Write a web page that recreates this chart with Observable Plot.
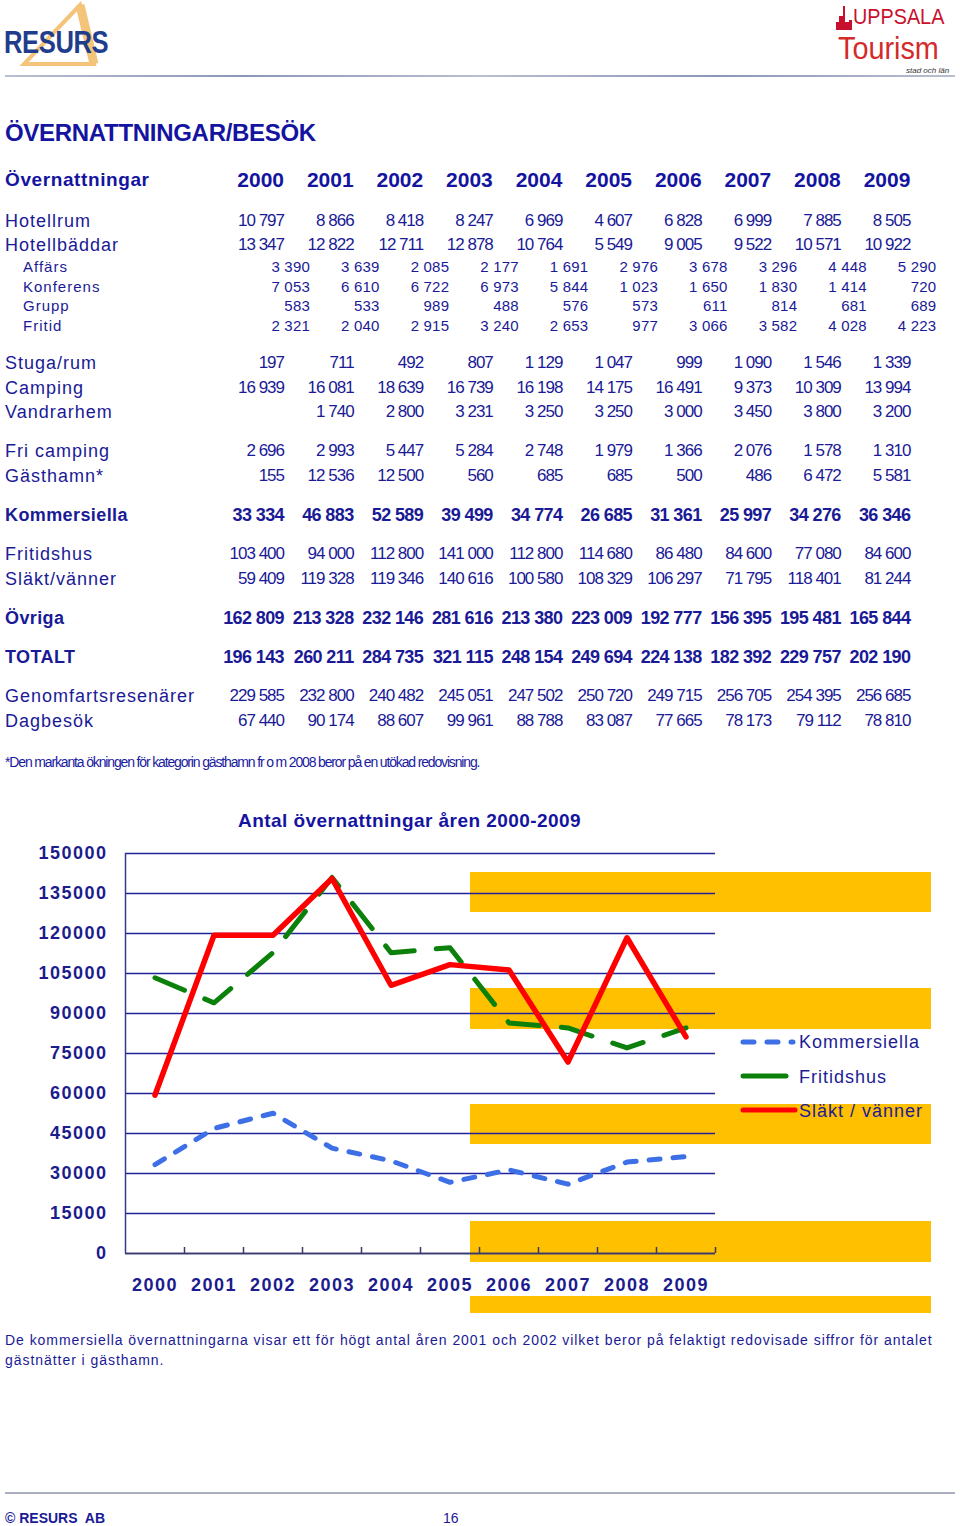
<!DOCTYPE html>
<html><head><meta charset="utf-8">
<script src="https://cdn.jsdelivr.net/npm/d3@7"></script>
<script src="https://cdn.jsdelivr.net/npm/@observablehq/plot@0.6"></script>
<style>
html,body{margin:0;padding:0;background:#fff;}
#page{position:relative;width:960px;height:1526px;overflow:hidden;background:#fff;font-family:"Liberation Sans",Arial,sans-serif;color:#1a1a96;}
.t{position:absolute;white-space:nowrap;}
.band{position:absolute;background:#ffc000;}
#chart{position:absolute;left:0;top:800px;}
#chart svg text{letter-spacing:1.5px;}
</style></head>
<body><div id="page"></div>
<script>
// ---------- DATA ----------
const years = [2000, 2001, 2002, 2003, 2004, 2005, 2006, 2007, 2008, 2009];
const hotellrum = [10797, 8866, 8418, 8247, 6969, 4607, 6828, 6999, 7885, 8505];
const hotellbaddar = [13347, 12822, 12711, 12878, 10764, 5549, 9005, 9522, 10571, 10922];
const affars = [3390, 3639, 2085, 2177, 1691, 2976, 3678, 3296, 4448, 5290];
const konferens = [7053, 6610, 6722, 6973, 5844, 1023, 1650, 1830, 1414, 720];
const grupp = [583, 533, 989, 488, 576, 573, 611, 814, 681, 689];
const fritid = [2321, 2040, 2915, 3240, 2653, 977, 3066, 3582, 4028, 4223];
const stugaRum = [197, 711, 492, 807, 1129, 1047, 999, 1090, 1546, 1339];
const camping = [16939, 16081, 18639, 16739, 16198, 14175, 16491, 9373, 10309, 13994];
const vandrarhem = [null, 1740, 2800, 3231, 3250, 3250, 3000, 3450, 3800, 3200];
const friCamping = [2696, 2993, 5447, 5284, 2748, 1979, 1366, 2076, 1578, 1310];
const gasthamn = [155, 12536, 12500, 560, 685, 685, 500, 486, 6472, 5581];
const kommersiella = [33334, 46883, 52589, 39499, 34774, 26685, 31361, 25997, 34276, 36346];
const fritidshus = [103400, 94000, 112800, 141000, 112800, 114680, 86480, 84600, 77080, 84600];
const slaktVanner = [59409, 119328, 119346, 140616, 100580, 108329, 106297, 71795, 118401, 81244];
const ovriga = [162809, 213328, 232146, 281616, 213380, 223009, 192777, 156395, 195481, 165844];
const totalt = [196143, 260211, 284735, 321115, 248154, 249694, 224138, 182392, 229757, 202190];
const genomfart = [229585, 232800, 240482, 245051, 247502, 250720, 249715, 256705, 254395, 256685];
const dagbesok = [67440, 90174, 88607, 99961, 88788, 83087, 77665, 78173, 79112, 78810];
const yTicks = [0, 15000, 30000, 45000, 60000, 75000, 90000, 105000, 120000, 135000, 150000];
const seriesNames = ["Kommersiella", "Fritidshus", "Släkt / vänner"];

// ---------- PAGE ----------
const page = document.getElementById("page");
function txt(s, css){const d=document.createElement("div");d.className="t";d.textContent=s;d.style.cssText+=css;page.appendChild(d);return d;}
const fmt = n => n==null ? "" : String(n).replace(/\B(?=(\d{3})+(?!\d))/g, " ");

// header logos
page.insertAdjacentHTML("beforeend", `
<svg style="position:absolute;left:0;top:0" width="130" height="72">
  <polygon points="80,5 24,64 94,64" fill="none" stroke="#f4c47a" stroke-width="4"/>
  <line x1="80" y1="5" x2="94" y2="64" stroke="#f4c47a" stroke-width="9"/>
</svg>
<svg style="position:absolute;left:836px;top:4px" width="20" height="28">
  <rect x="3" y="12" width="4" height="14" fill="#c8102e"/><rect x="0" y="18" width="14" height="8" fill="#c8102e"/><rect x="7" y="2" width="2" height="24" fill="#c8102e"/><rect x="13" y="16" width="3" height="10" fill="#c8102e"/>
</svg>
<div style="position:absolute;left:5px;top:75px;width:950px;height:2px;background:linear-gradient(90deg,#b9bfd0,#8d96b8,#b9bfd0,#8d96b8,#b9bfd0)"></div>
`);
txt("RESURS", "left:4px;top:24px;line-height:36px;font-size:32px;font-weight:bold;color:#1f3d8c;transform:scaleX(0.8);transform-origin:0 50%;letter-spacing:-0.5px;");
txt("UPPSALA", "left:853px;top:4px;line-height:25px;font-size:22px;color:#c8102e;transform:scaleX(0.9);transform-origin:0 50%;");
txt("Tourism", "left:838px;top:30px;line-height:36px;font-size:32px;color:#d42a2a;transform:scaleX(0.9);transform-origin:0 50%;");
txt("stad och län", "left:906px;top:66px;line-height:9px;font-size:8px;font-style:italic;color:#333;");

txt("ÖVERNATTNINGAR/BESÖK", "left:5px;top:118px;line-height:30px;font-size:24px;font-weight:bold;letter-spacing:-0.3px;color:#1414a0;");
txt("Övernattningar", "left:5px;top:168px;line-height:24px;font-size:19px;font-weight:bold;letter-spacing:0.6px;color:#1414a0;");
const colR = years.map((y,i) => 284 + i*69.6);
years.forEach((y,i)=>txt(String(y), `left:${colR[i]-100}px;width:100px;text-align:right;top:167px;line-height:26px;font-size:21px;font-weight:bold;color:#1414a0;`));

const rows = [
  {label:"Hotellrum", v:hotellrum, y:221, kind:"main"},
  {label:"Hotellbäddar", v:hotellbaddar, y:245, kind:"main"},
  {label:"Affärs", v:affars, y:267, kind:"sub"},
  {label:"Konferens", v:konferens, y:287, kind:"sub"},
  {label:"Grupp", v:grupp, y:306, kind:"sub"},
  {label:"Fritid", v:fritid, y:326, kind:"sub"},
  {label:"Stuga/rum", v:stugaRum, y:363, kind:"main"},
  {label:"Camping", v:camping, y:388, kind:"main"},
  {label:"Vandrarhem", v:vandrarhem, y:412, kind:"main"},
  {label:"Fri camping", v:friCamping, y:451, kind:"main"},
  {label:"Gästhamn*", v:gasthamn, y:476, kind:"main"},
  {label:"Kommersiella", v:kommersiella, y:515, kind:"bold"},
  {label:"Fritidshus", v:fritidshus, y:554, kind:"main"},
  {label:"Släkt/vänner", v:slaktVanner, y:579, kind:"main"},
  {label:"Övriga", v:ovriga, y:618, kind:"bold"},
  {label:"TOTALT", v:totalt, y:657, kind:"bold"},
  {label:"Genomfartsresenärer", v:genomfart, y:696, kind:"main"},
  {label:"Dagbesök", v:dagbesok, y:721, kind:"main"}
];
rows.forEach(r=>{
  if(r.kind==="sub"){
    txt(r.label, `left:23px;top:${r.y-10}px;line-height:20px;font-size:15px;letter-spacing:1px;`);
    r.v.forEach((n,i)=>txt(fmt(n), `left:${colR[i]+26-100}px;width:100px;text-align:right;top:${r.y-10}px;line-height:20px;font-size:15px;letter-spacing:0.2px;`));
  } else if(r.kind==="bold"){
    txt(r.label, `left:5px;top:${r.y-12}px;line-height:24px;font-size:18px;font-weight:bold;letter-spacing:0.4px;`);
    r.v.forEach((n,i)=>txt(fmt(n), `left:${colR[i]-100}px;width:100px;text-align:right;top:${r.y-12}px;line-height:24px;font-size:18px;font-weight:bold;letter-spacing:-0.6px;`));
  } else {
    txt(r.label, `left:5px;top:${r.y-12}px;line-height:24px;font-size:18px;letter-spacing:1px;`);
    r.v.forEach((n,i)=>txt(fmt(n), `left:${colR[i]-100}px;width:100px;text-align:right;top:${r.y-12}px;line-height:24px;font-size:17px;letter-spacing:-1px;`));
  }
});
txt("*Den markanta ökningen för kategorin gästhamn fr o m 2008 beror på en utökad redovisning.", "left:5px;top:753px;line-height:18px;font-size:14px;letter-spacing:-1.15px;color:#1a1aa0;");

// decorative yellow stripes (behind chart)
[[872,912],[988,1029],[1104,1144],[1221,1262],[1296,1313]].forEach(([a,b])=>{
  const d=document.createElement("div");d.className="band";d.style.cssText=`left:470px;width:461px;top:${a}px;height:${b-a}px;`;page.appendChild(d);
});

// chart title
txt("Antal övernattningar åren 2000-2009", "left:238px;top:809px;line-height:24px;font-size:19px;font-weight:bold;letter-spacing:0.45px;color:#1414a0;");

// ---------- CHART ----------
const series = [
  {name:seriesNames[0], values:kommersiella, color:"#3d6fe6", dash:"11,13", width:5},
  {name:seriesNames[1], values:fritidshus, color:"#0b800b", dash:"32,22", width:5},
  {name:seriesNames[2], values:slaktVanner, color:"#ff0000", dash:null, width:5.5}
];
const boundaries = years.map(y => y + 0.5);
const ink = "#1c1c8e";
const chart = Plot.plot({
  width: 960, height: 500,
  marginTop: 53, marginBottom: 47, marginLeft: 125, marginRight: 245,
  style: {background:"transparent", fontFamily:"'Liberation Sans', Arial, sans-serif", color:ink, overflow:"visible"},
  x: {domain:[years[0]-0.5, years[years.length-1]+0.5]},
  y: {domain:[0, 150000]},
  marks: [
    Plot.ruleY(yTicks, {stroke:"#22229a", strokeWidth:1.5}),
    Plot.ruleX([years[0]-0.5], {stroke:"#3a3a8a", strokeWidth:1.5}),
    Plot.ruleY([0], {stroke:"#3a3a6a", strokeWidth:1.5}),
    Plot.axisX(boundaries, {tickSize:-6, fill:"none", stroke:"#3a3a6a", strokeWidth:1.5, label:null}),
    Plot.axisX(years, {tickSize:0, tickPadding:25, tickFormat:d=>String(d), fontSize:18, fontWeight:"bold", fill:ink, label:null}),
    Plot.axisY(yTicks, {tickSize:0, tickPadding:18, tickFormat:d=>String(d), fontSize:18, fontWeight:"bold", fill:ink, label:null}),
    ...series.map(s => Plot.line(years.map((y,i)=>({year:y, value:s.values[i]})), {
      x:"year", y:"value", stroke:s.color, strokeWidth:s.width,
      strokeDasharray:s.dash, strokeLinecap:"round", strokeLinejoin:"round"
    }))
  ]
});
const holder = document.createElement("div"); holder.id="chart"; holder.appendChild(chart); page.appendChild(holder);

// legend
page.insertAdjacentHTML("beforeend", `
<svg style="position:absolute;left:735px;top:1030px" width="70" height="95">
  <line x1="8" y1="12" x2="58" y2="12" stroke="${series[0].color}" stroke-width="5" stroke-linecap="round" stroke-dasharray="11,13"/>
  <line x1="8" y1="46" x2="51" y2="46" stroke="${series[1].color}" stroke-width="5" stroke-linecap="round"/>
  <line x1="8" y1="80" x2="60" y2="80" stroke="${series[2].color}" stroke-width="5" stroke-linecap="round"/>
</svg>`);
series.forEach((s,i)=>txt(s.name, `left:799px;top:${1030+i*34.5}px;line-height:24px;font-size:18px;letter-spacing:1px;color:#1c1c96;`));

// caption & footer
txt("De kommersiella övernattningarna visar ett för högt antal åren 2001 och 2002 vilket beror på felaktigt redovisade siffror för antalet", "left:5px;top:1330px;line-height:20px;font-size:14px;letter-spacing:0.95px;color:#1a1a96;");
txt("gästnätter i gästhamn.", "left:5px;top:1350px;line-height:20px;font-size:14px;letter-spacing:0.95px;color:#1a1a96;");
page.insertAdjacentHTML("beforeend", `<div style="position:absolute;left:5px;top:1492px;width:950px;height:2px;background:#aab0bf"></div>`);
txt("© RESURS  AB", "left:5px;top:1509px;line-height:18px;font-size:14px;font-weight:bold;color:#1a1a96;white-space:pre;");
txt("16", "left:443px;top:1509px;line-height:18px;font-size:14px;color:#1a1a96;");
</script>
</body></html>
